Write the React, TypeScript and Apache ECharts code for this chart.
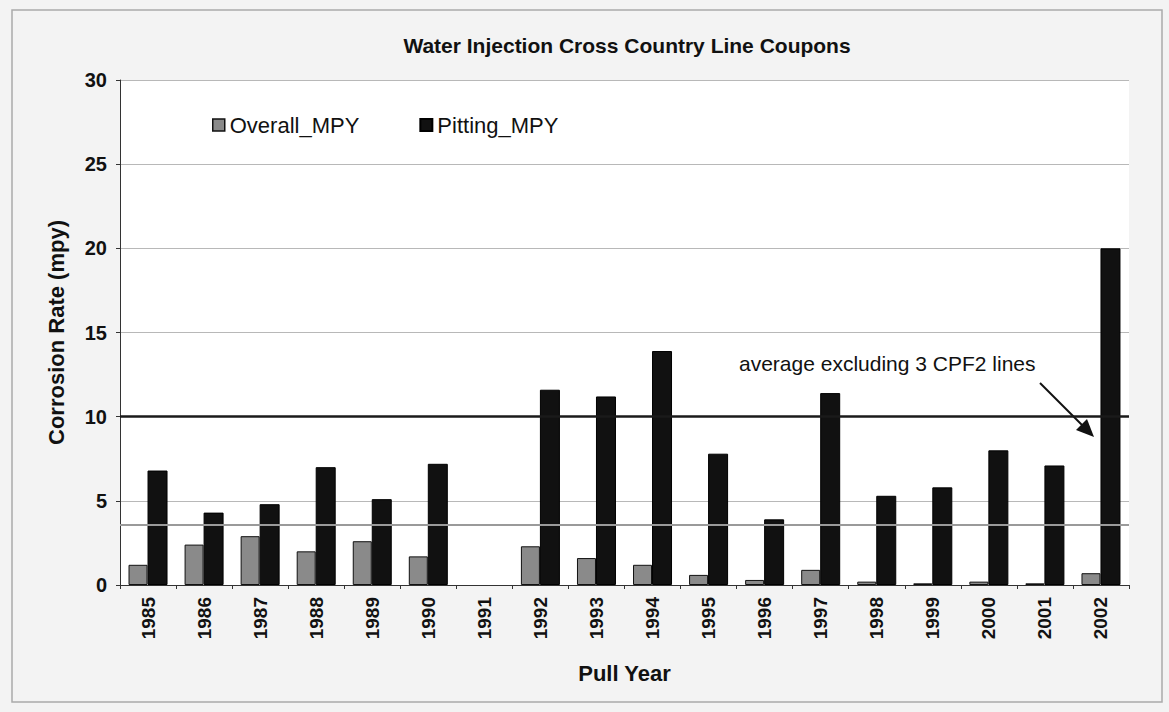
import React, { useEffect, useRef } from "react";
import * as echarts from "echarts";

const years = ["1985","1986","1987","1988","1989","1990","1991","1992","1993","1994","1995","1996","1997","1998","1999","2000","2001","2002"];
const overallMpy = [1.2, 2.4, 2.9, 2.0, 2.6, 1.7, null, 2.3, 1.6, 1.2, 0.6, 0.3, 0.9, 0.2, 0.1, 0.2, 0.1, 0.7];
const pittingMpy = [6.8, 4.3, 4.8, 7.0, 5.1, 7.2, null, 11.6, 11.2, 13.9, 7.8, 3.9, 11.4, 5.3, 5.8, 8.0, 7.1, 20.0];
const referenceLines = [10, 3.6];
const yTicks = { min: 0, max: 30, interval: 5 };
const titleText = "Water Injection Cross Country Line Coupons";
const annotationText = "average excluding 3 CPF2 lines";

export default function App() {
  const ref = useRef<HTMLDivElement>(null);
  useEffect(() => {
    if (!ref.current) return;
    const chart = echarts.init(ref.current, undefined, { renderer: "svg" });
    const font = "Arial, 'Liberation Sans', sans-serif";
    chart.setOption({
      animation: false,
      backgroundColor: "#f3f3f3",
      title: {
        text: titleText,
        left: 622,
        textAlign: "center",
        top: 30,
        textStyle: { fontFamily: font, fontWeight: "bold", fontSize: 21, color: "#111" },
      },
      legend: {
        left: 207,
        top: 109,
        itemWidth: 12,
        itemHeight: 12,
        itemGap: 60,
        textStyle: { fontFamily: font, fontSize: 22, color: "#111" },
        data: [
          { name: "Overall_MPY", icon: "rect", itemStyle: { color: "#8a8a8a", borderColor: "#111", borderWidth: 1.5 } },
          { name: "Pitting_MPY", icon: "rect", itemStyle: { color: "#111" } },
        ],
      },
      grid: {
        left: 120,
        right: 40,
        top: 80,
        bottom: 127,
        show: true,
        backgroundColor: "#ffffff",
        borderWidth: 0,
      },
      xAxis: {
        type: "category",
        data: years,
        name: "Pull Year",
        nameLocation: "middle",
        nameGap: 77,
        nameTextStyle: { fontFamily: font, fontWeight: "bold", fontSize: 22, color: "#111" },
        axisLine: { lineStyle: { color: "#333", width: 1 } },
        axisTick: { show: true, length: 4, lineStyle: { color: "#333" } },
        axisLabel: { rotate: 90, fontFamily: font, fontWeight: "bold", fontSize: 19, color: "#111", margin: 12 },
      },
      yAxis: {
        type: "value",
        min: yTicks.min,
        max: yTicks.max,
        interval: yTicks.interval,
        name: "Corrosion Rate (mpy)",
        nameLocation: "middle",
        nameGap: 53,
        nameTextStyle: { fontFamily: font, fontWeight: "bold", fontSize: 22, color: "#111" },
        axisLine: { show: true, lineStyle: { color: "#333", width: 1 } },
        axisTick: { show: true, length: 4, lineStyle: { color: "#333" } },
        axisLabel: { fontFamily: font, fontWeight: "bold", fontSize: 20, color: "#111", margin: 13 },
        splitLine: { lineStyle: { color: "#b8b8b8", width: 1.2 } },
      },
      series: [
        {
          name: "Overall_MPY",
          type: "bar",
          data: overallMpy,
          barWidth: 19,
          barGap: "0%",
          itemStyle: { color: "#8a8a8a", borderColor: "#111", borderWidth: 1 },
          markLine: {
            silent: true,
            symbol: "none",
            label: { show: false },
            data: [
              { yAxis: referenceLines[0], lineStyle: { color: "#1a1a1a", width: 2.5, type: "solid" } },
              { yAxis: referenceLines[1], lineStyle: { color: "#9a9a9a", width: 2, type: "solid" } },
            ],
          },
        },
        {
          name: "Pitting_MPY",
          type: "bar",
          data: pittingMpy,
          barWidth: 20,
          itemStyle: { color: "#111", borderColor: "#000", borderWidth: 1 },
          z: 3,
        },
      ],
      graphic: [
        {
          type: "rect",
          shape: { x: 12, y: 10, width: 1150, height: 692 },
          style: { fill: "none", stroke: "#aaa", lineWidth: 1.5 },
          silent: true,
        },
        {
          type: "text",
          x: 739,
          y: 353,
          style: { text: annotationText, fontFamily: font, fontSize: 21, fill: "#111" },
        },
        {
          type: "line",
          shape: { x1: 1040, y1: 383, x2: 1084, y2: 427 },
          style: { stroke: "#111", lineWidth: 2 },
        },
        {
          type: "polygon",
          shape: { points: [[1094, 437], [1076, 430], [1087, 419]] },
          style: { fill: "#111" },
        },
      ],
    });
    return () => chart.dispose();
  }, []);
  return <div ref={ref} style={{ position: "fixed", left: 0, top: 0, width: 1169, height: 712 }} />;
}
